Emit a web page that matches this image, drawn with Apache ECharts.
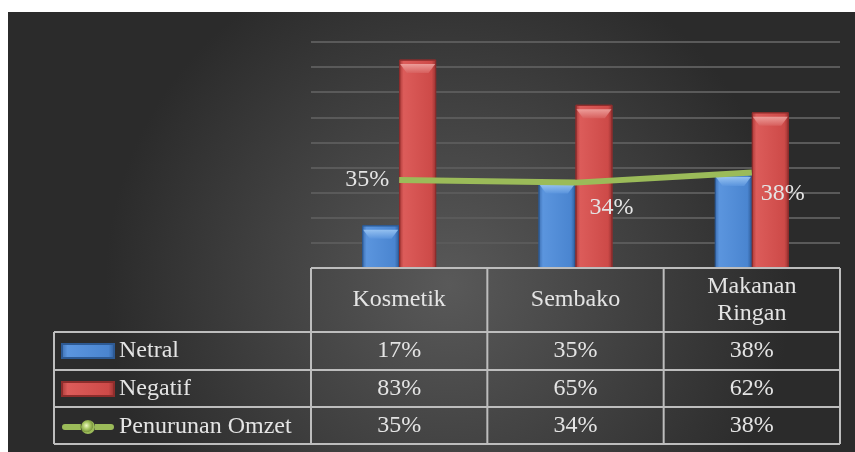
<!DOCTYPE html>
<html>
<head>
<meta charset="utf-8">
<script src="https://cdn.jsdelivr.net/npm/echarts@6/dist/echarts.min.js"></script>
<style>
  html, body { margin: 0; padding: 0; background: #fff; }
  #main { width: 855px; height: 452px; }
</style>
</head>
<body>
<div id="main"></div>
<script>
// data
var categories = ['Kosmetik', 'Sembako', 'Makanan\nRingan'];
var netral = [0.17, 0.35, 0.38];
var negatif = [0.83, 0.65, 0.62];
var omzet = [0.35, 0.34, 0.38];
var seriesNames = ['Netral', 'Negatif', 'Penurunan Omzet'];

var FONT = 'Liberation Serif';
var TXT = '#e4e4e4';
var LINE = '#bdbdbd';

function pct(v) { return Math.round(v * 100) + '%'; }

function hGrad(stops) {
    return new echarts.graphic.LinearGradient(0, 0, 1, 0, stops);
}
function vGrad(stops) {
    return new echarts.graphic.LinearGradient(0, 0, 0, 1, stops);
}

var blue = hGrad([
    { offset: 0, color: '#3b6db0' },
    { offset: 0.12, color: '#5b95de' },
    { offset: 0.88, color: '#4a85d0' },
    { offset: 1, color: '#2f5c98' }
]);
var red = hGrad([
    { offset: 0, color: '#a93836' },
    { offset: 0.12, color: '#dc5c5a' },
    { offset: 0.88, color: '#cd4a48' },
    { offset: 1, color: '#963130' }
]);
var blueTop = vGrad([{ offset: 0, color: '#a4cdf6' }, { offset: 1, color: '#5b95de' }]);
var redTop = vGrad([{ offset: 0, color: '#f2aeaa' }, { offset: 1, color: '#d86260' }]);
var bevel = 'path://M0,0 L37,0 L30,9 L7,9 Z';

// legend icon of the line: thick line with a sphere in the middle
var lineIcon = 'path://M3,4 L19,4 L19,10 L3,10 A3,3 0 0 1 3,4 Z M33,4 L49,4 A3,3 0 0 1 49,10 L33,10 Z M33,7 A7,7 0 1 1 19,7 A7,7 0 1 1 33,7 Z';
var sphere = new echarts.graphic.RadialGradient(0.47, 0.4, 0.5, [
    { offset: 0, color: '#eef8c4' },
    { offset: 0.5, color: '#a9c865' },
    { offset: 0.9, color: '#7e9a40' },
    { offset: 1, color: '#9bbb59' }
]);

// label placement of the line values
var lineLabels = [
    { position: 'left', distance: 10 },
    { position: 'bottom', offset: [36, 8] },
    { position: 'bottom', offset: [31, 4] }
];

var chartDom = document.getElementById('main');
var myChart = echarts.init(chartDom);

var option = {
    backgroundColor: 'transparent',
    animation: false,
    grid: { left: 311, right: 15, top: 42, bottom: 184 },
    xAxis: {
        type: 'category',
        data: categories,
        axisLine: { show: false },
        axisTick: { show: false },
        axisLabel: { show: false }
    },
    yAxis: {
        type: 'value',
        min: 0,
        max: 0.9,
        interval: 0.1,
        axisLabel: { show: false },
        axisLine: { show: false },
        splitLine: { lineStyle: { color: '#5a5a5a', width: 2 } }
    },
    legend: {
        orient: 'vertical',
        left: 61,
        top: 339,
        padding: 0,
        itemWidth: 52,
        itemHeight: 14,
        itemGap: 14,
        data: [
            { name: seriesNames[0], icon: 'rect' },
            { name: seriesNames[1], icon: 'rect' },
            { name: seriesNames[2], icon: lineIcon, itemStyle: { color: sphere } }
        ],
        textStyle: { color: TXT, fontFamily: FONT, fontSize: 24, lineHeight: 24 }
    },
    series: [
        {
            name: seriesNames[0],
            type: 'bar',
            data: netral,
            barWidth: 37,
            barGap: '0%',
            itemStyle: { color: blue, borderColor: '#2d5a94', borderWidth: 1 }
        },
        {
            name: seriesNames[1],
            type: 'bar',
            data: negatif,
            barWidth: 37,
            itemStyle: { color: red, borderColor: '#8e2d2c', borderWidth: 1 }
        },
        {
            name: seriesNames[0] + ' top',
            type: 'pictorialBar',
            data: netral,
            symbol: bevel,
            symbolSize: [35, 9],
            symbolPosition: 'end',
            symbolOffset: [-18.5, '50%'],
            silent: true,
            z: 3,
            itemStyle: { color: blueTop, opacity: 0.8 }
        },
        {
            name: seriesNames[1] + ' top',
            type: 'pictorialBar',
            data: negatif,
            symbol: bevel,
            symbolSize: [35, 9],
            symbolPosition: 'end',
            symbolOffset: [18.5, '50%'],
            silent: true,
            z: 3,
            itemStyle: { color: redTop, opacity: 0.8 }
        },
        {
            name: seriesNames[2],
            type: 'line',
            data: omzet.map(function (v, i) { return { value: v, label: lineLabels[i] }; }),
            symbol: 'circle',
            symbolSize: 0,
            z: 5,
            lineStyle: { color: '#9bbb59', width: 6 },
            itemStyle: { color: '#9bbb59' },
            label: {
                show: true,
                color: TXT,
                fontFamily: FONT,
                fontSize: 24,
                formatter: function (p) { return pct(p.value); }
            }
        }
    ]
};
myChart.setOption(option);

// table under the plot, built from the same arrays
var gridLeft = 311, gridRight = 840, tableLeft = 54;
var rowY = [268, 332, 370, 407, 444];
var colX = [gridLeft];
categories.forEach(function (c, i) {
    var cx = myChart.convertToPixel({ xAxisIndex: 0 }, i);
    colX.push(cx + (gridRight - gridLeft) / categories.length / 2);
});
colX[colX.length - 1] = gridRight;

var gfx = [];
// background panel
gfx.push({
    type: 'rect', z: -10, silent: true,
    shape: { x: 8, y: 12, width: 847, height: 440 },
    style: {
        fill: new echarts.graphic.RadialGradient(0.52, 0.62, 0.78, [
            { offset: 0, color: '#595959' },
            { offset: 1, color: '#2b2b2b' }
        ])
    }
});
function hline(x1, x2, y) {
    gfx.push({ type: 'line', z: 10, shape: { x1: x1, y1: y, x2: x2, y2: y }, style: { stroke: LINE, lineWidth: 2 } });
}
function vline(x, y1, y2) {
    gfx.push({ type: 'line', z: 10, shape: { x1: x, y1: y1, x2: x, y2: y2 }, style: { stroke: LINE, lineWidth: 2 } });
}
hline(gridLeft, gridRight, rowY[0]);
for (var r = 1; r < rowY.length; r++) hline(tableLeft, gridRight, rowY[r]);
vline(tableLeft, rowY[1], rowY[4]);
colX.forEach(function (x) { vline(x, rowY[0], rowY[4]); });

function cellText(text, x, y) {
    gfx.push({
        type: 'text', z: 11, x: x, y: y,
        style: {
            text: text, fill: TXT, font: '24px "' + FONT + '"',
            align: 'center', verticalAlign: 'middle', lineHeight: 27
        }
    });
}
categories.forEach(function (c, i) {
    var cx = myChart.convertToPixel({ xAxisIndex: 0 }, i);
    cellText(c, cx, (rowY[0] + rowY[1]) / 2);
    cellText(pct(netral[i]), cx, (rowY[1] + rowY[2]) / 2);
    cellText(pct(negatif[i]), cx, (rowY[2] + rowY[3]) / 2);
    cellText(pct(omzet[i]), cx, (rowY[3] + rowY[4]) / 2);
});

myChart.setOption({ graphic: gfx });
</script>
</body>
</html>
